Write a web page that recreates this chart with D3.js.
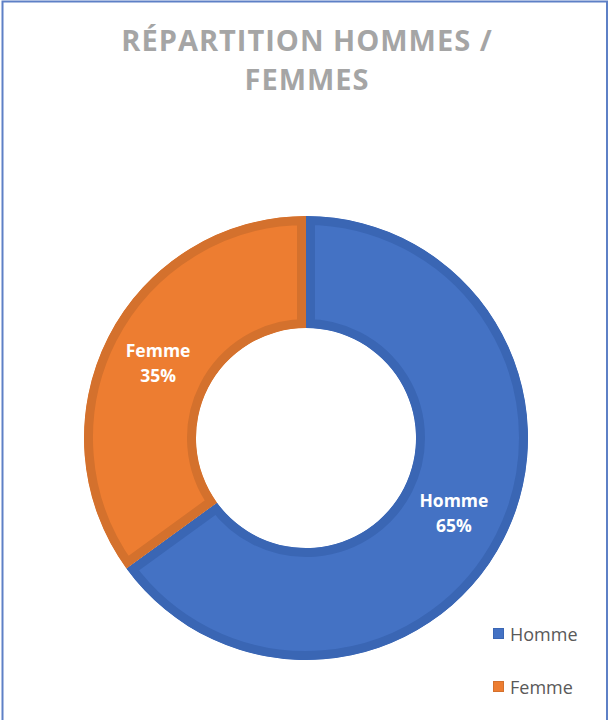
<!DOCTYPE html>
<html>
<head>
<meta charset="utf-8">
<script src="https://cdn.jsdelivr.net/npm/d3@7"></script>
<style>
  html, body { margin: 0; padding: 0; background: #fff; }
  svg { display: block; }
</style>
</head>
<body>
<svg id="chart" width="609" height="720"></svg>
<script>
// Répartition par sexe
const categories = ["Homme", "Femme"];
const values = [65, 35];
const fills = ["#4472C4", "#ED7D31"];
const edges = ["#3A66B4", "#D4712D"];

const W = 609, H = 720;
const svg = d3.select("#chart");

// Cadre du graphique
svg.append("rect")
  .attr("x", 2.5).attr("y", 1.5)
  .attr("width", 604.5).attr("height", 740)
  .attr("fill", "none")
  .attr("stroke", "#5E80C6")
  .attr("stroke-width", 2);

// Titre
const title = svg.append("text")
  .attr("text-anchor", "middle")
  .attr("font-family", "'Open Sans', sans-serif")
  .attr("font-weight", 700)
  .attr("font-size", 29)
  .attr("letter-spacing", 1)
  .attr("fill", "#A5A5A5");
title.append("tspan").attr("x", 307).attr("y", 51).text("RÉPARTITION HOMMES /");
title.append("tspan").attr("x", 307).attr("y", 90).text("FEMMES");

// Anneau
const cx = 306, cy = 438, rOuter = 222, rInner = 110;
const g = svg.append("g").attr("transform", `translate(${cx},${cy})`);

const pie = d3.pie().sort(null).value(d => d.value);
const arc = d3.arc().innerRadius(rInner).outerRadius(rOuter);
const data = categories.map((c, i) => ({ name: c, value: values[i], i }));
const arcs = pie(data);

const defs = svg.append("defs");
arcs.forEach((a, k) => {
  defs.append("clipPath").attr("id", "clip-" + k)
    .append("path").attr("d", arc(a));
});

g.selectAll("path.slice")
  .data(arcs)
  .join("path")
  .attr("class", "slice")
  .attr("d", arc)
  .attr("fill", d => fills[d.data.i])
  .attr("stroke", d => edges[d.data.i])
  .attr("stroke-width", 18)
  .attr("stroke-linejoin", "miter")
  .attr("clip-path", (d, k) => `url(#clip-${k})`);

// Étiquettes de données
const total = d3.sum(values);
const labelArc = d3.arc().innerRadius((rInner + rOuter) / 2).outerRadius((rInner + rOuter) / 2);
const labels = g.selectAll("text.lbl")
  .data(arcs)
  .join("text")
  .attr("class", "lbl")
  .attr("text-anchor", "middle")
  .attr("font-family", "'Open Sans', sans-serif")
  .attr("font-weight", 700)
  .attr("font-size", 17.5)
  .attr("fill", "#FFFFFF")
  .attr("transform", d => `translate(${labelArc.centroid(d)})`);
labels.append("tspan").attr("x", 0).attr("y", -6).text(d => d.data.name);
labels.append("tspan").attr("x", 0).attr("y", 19).text(d => Math.round(d.data.value / total * 100) + "%");

// Légende
const legend = svg.append("g");
const ly = d3.scalePoint().domain(categories).range([634, 687]);
const items = legend.selectAll("g.item")
  .data(categories)
  .join("g")
  .attr("class", "item")
  .attr("transform", d => `translate(493,${ly(d)})`);
items.append("rect")
  .attr("x", 0.5).attr("y", -5.5)
  .attr("width", 10).attr("height", 10)
  .attr("fill", (d, i) => fills[i])
  .attr("stroke", (d, i) => edges[i])
  .attr("stroke-width", 1);
items.append("text")
  .attr("x", 17).attr("y", 6.5)
  .attr("font-family", "'Open Sans', sans-serif")
  .attr("font-size", 18)
  .attr("fill", "#595959")
  .text(d => d);
</script>
</body>
</html>
